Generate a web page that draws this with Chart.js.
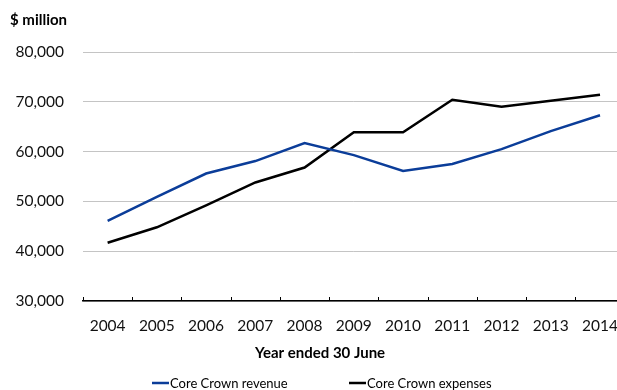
<!DOCTYPE html>
<html>
<head>
<meta charset="utf-8">
<script src="https://cdn.jsdelivr.net/npm/chart.js@4.4.1/dist/chart.umd.min.js"></script>
<style>
  html, body { margin: 0; padding: 0; background: #fff; overflow: hidden; }
  #wrap { position: relative; width: 626px; height: 390px; }
</style>
</head>
<body>
<div id="wrap"><canvas id="c"></canvas></div>
<script>
// Core Crown revenue and expenses, $ million, year ended 30 June
const years = ['2004','2005','2006','2007','2008','2009','2010','2011','2012','2013','2014'];
const revenue = [46100, 50900, 55600, 58100, 61700, 59300, 56100, 57500, 60500, 64100, 67300];
const expenses = [41700, 44800, 49200, 53800, 56800, 63900, 63900, 70400, 69000, 70200, 71400];
const yTicks = [30000, 40000, 50000, 60000, 70000, 80000];

const FONT = 'Lato, "Liberation Sans", sans-serif';

// Titles, legend and inward x-axis tick marks
const decorations = {
  id: 'decorations',
  afterDraw(chart) {
    const ctx = chart.ctx;
    const x = chart.scales.x;
    const area = chart.chartArea;
    ctx.save();
    // inward tick marks at category boundaries
    ctx.strokeStyle = '#000';
    ctx.lineWidth = 1;
    const step = x.getPixelForValue(1) - x.getPixelForValue(0);
    for (let i = 0; i <= years.length; i++) {
      const px = Math.round(x.getPixelForValue(0) - step / 2 + i * step) + 0.5;
      ctx.beginPath();
      ctx.moveTo(px, area.bottom);
      ctx.lineTo(px, area.bottom - 4);
      ctx.stroke();
    }
    // unit label
    ctx.fillStyle = '#000';
    ctx.font = 'bold 15px ' + FONT;
    ctx.textAlign = 'left';
    ctx.textBaseline = 'middle';
    ctx.fillText('$ million', 10, 20);
    // x-axis title
    ctx.font = 'bold 15px ' + FONT;
    ctx.textAlign = 'center';
    ctx.fillText('Year ended 30 June', 320, 353);
    // legend
    ctx.font = '13px ' + FONT;
    ctx.textAlign = 'left';
    const items = [{ ds: 0, x: 152 }, { ds: 1, x: 349 }];
    items.forEach(it => {
      const ds = chart.data.datasets[it.ds];
      ctx.strokeStyle = ds.borderColor;
      ctx.lineWidth = 2.5;
      ctx.beginPath();
      ctx.moveTo(it.x, 383);
      ctx.lineTo(it.x + 17, 383);
      ctx.stroke();
      ctx.fillStyle = '#000';
      ctx.fillText(ds.label, it.x + 18, 384);
    });
    ctx.restore();
  }
};

new Chart(document.getElementById('c'), {
  type: 'line',
  data: {
    labels: years,
    datasets: [
      { label: 'Core Crown revenue', data: revenue, borderColor: '#0b3d99', borderWidth: 2.5,
        pointRadius: 0, tension: 0, fill: false },
      { label: 'Core Crown expenses', data: expenses, borderColor: '#000000', borderWidth: 2.5,
        pointRadius: 0, tension: 0, fill: false }
    ]
  },
  options: {
    responsive: true,
    maintainAspectRatio: false,
    animation: false,
    layout: { padding: { top: 52, left: 0, right: 0, bottom: 0 } },
    plugins: { legend: { display: false }, tooltip: { enabled: false } },
    scales: {
      x: {
        offset: true,
        grid: { display: false },
        border: { display: true, color: '#000', width: 1.5 },
        ticks: { color: '#111', font: { family: FONT, size: 15.5 }, padding: 8, maxRotation: 0, autoSkip: false },
        afterFit(s) { s.height = 89; }
      },
      y: {
        min: 30000, max: 80000,
        afterBuildTicks(s) { s.ticks = yTicks.map(v => ({ value: v })); },
        grid: { color: '#c4c4c4', lineWidth: 1, drawTicks: false },
        border: { display: false },
        ticks: {
          color: '#111', font: { family: FONT, size: 15.5 }, padding: 19,
          callback: v => v.toLocaleString('en-US')
        },
        afterFit(s) { s.width = 83; }
      }
    }
  },
  plugins: [decorations]
});
</script>
</body>
</html>
